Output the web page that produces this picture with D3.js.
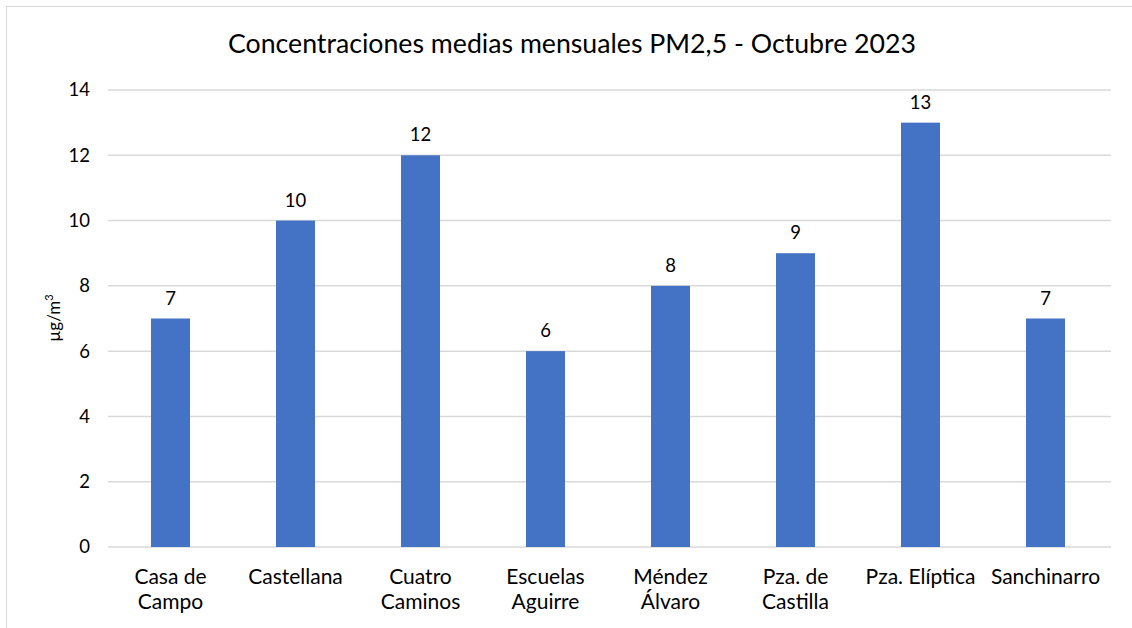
<!DOCTYPE html>
<html>
<head>
<meta charset="utf-8">
<script src="https://d3js.org/d3.v7.min.js"></script>
<style>
  body { margin: 0; background: #fff; }
  svg text { font-family: Lato, "Open Sans", sans-serif; fill: #000; }
</style>
</head>
<body>
<div id="chart"></div>
<script>
  // stations and monthly means
  var categories = ["Casa de Campo", "Castellana", "Cuatro Caminos", "Escuelas Aguirre",
                    "Méndez Álvaro", "Pza. de Castilla", "Pza. Elíptica", "Sanchinarro"];
  var labelLines = [["Casa de", "Campo"], ["Castellana"], ["Cuatro", "Caminos"], ["Escuelas", "Aguirre"],
                    ["Méndez", "Álvaro"], ["Pza. de", "Castilla"], ["Pza. Elíptica"], ["Sanchinarro"]];
  var values = [7, 10, 12, 6, 8, 9, 13, 7];
  var yTicks = [0, 2, 4, 6, 8, 10, 12, 14];

  var W = 1132, H = 628;
  var margin = {top: 90, right: 24, bottom: 81, left: 108};
  var width = 1108 - margin.left, height = 547 - margin.top;

  var svg = d3.select("#chart").append("svg")
      .attr("width", W).attr("height", H);

  // outer frame
  svg.append("rect")
      .attr("x", 6.5).attr("y", 6.5)
      .attr("width", W + 10).attr("height", H + 10)
      .attr("fill", "none").attr("stroke", "#d9d9d9").attr("stroke-width", 1);

  svg.append("text")
      .attr("x", 572).attr("y", 53)
      .attr("text-anchor", "middle")
      .attr("font-size", "26.7px")
      .text("Concentraciones medias mensuales PM2,5 - Octubre 2023");

  var g = svg.append("g")
      .attr("transform", "translate(" + margin.left + "," + margin.top + ")");

  var x = d3.scaleBand()
      .domain(categories)
      .range([0, width])
      .paddingInner(0.688)
      .paddingOuter(0.344);

  var y = d3.scaleLinear()
      .domain([0, 14])
      .range([height, 0]);

  // gridlines
  g.append("g")
      .selectAll("line")
      .data(yTicks)
      .enter().append("line")
      .attr("x1", 0).attr("x2", width + 3)
      .attr("y1", d => y(d)).attr("y2", d => y(d))
      .attr("stroke", "#d9d9d9").attr("stroke-width", 1.5);

  // y axis labels
  var yAxis = g.append("g")
      .call(d3.axisLeft(y).tickValues(yTicks).tickSize(0).tickPadding(18));
  yAxis.select(".domain").remove();
  yAxis.selectAll("text")
      .attr("font-size", "18.5px")
      .attr("font-family", "Lato, sans-serif")
      .attr("fill", "#000");

  // bars
  g.append("g")
      .selectAll("rect")
      .data(values)
      .enter().append("rect")
      .attr("x", (d, i) => x(categories[i]))
      .attr("y", d => y(d))
      .attr("width", x.bandwidth())
      .attr("height", d => y(0) - y(d))
      .attr("fill", "#4472c4");

  // value labels
  g.append("g")
      .selectAll("text")
      .data(values)
      .enter().append("text")
      .attr("x", (d, i) => x(categories[i]) + x.bandwidth() / 2)
      .attr("y", d => y(d) - 14)
      .attr("text-anchor", "middle")
      .attr("font-size", "18.5px")
      .text(d => d);

  // category labels
  var cat = g.append("g")
      .selectAll("text")
      .data(categories)
      .enter().append("text")
      .attr("x", (d, i) => x(d) + x.bandwidth() / 2)
      .attr("y", height + 37)
      .attr("text-anchor", "middle")
      .attr("font-size", "21px");
  cat.each(function(d, i) {
    var t = d3.select(this);
    labelLines[i].forEach(function(line, k) {
      t.append("tspan")
          .attr("x", x(d) + x.bandwidth() / 2)
          .attr("dy", k === 0 ? 0 : 24.5)
          .text(line);
    });
  });

  // y axis title
  svg.append("text")
      .attr("transform", "translate(60,318) rotate(-90)")
      .attr("text-anchor", "middle")
      .attr("font-size", "17px")
      .html("µg/m<tspan dy='-7' font-size='11px'>3</tspan>");
</script>
</body>
</html>
